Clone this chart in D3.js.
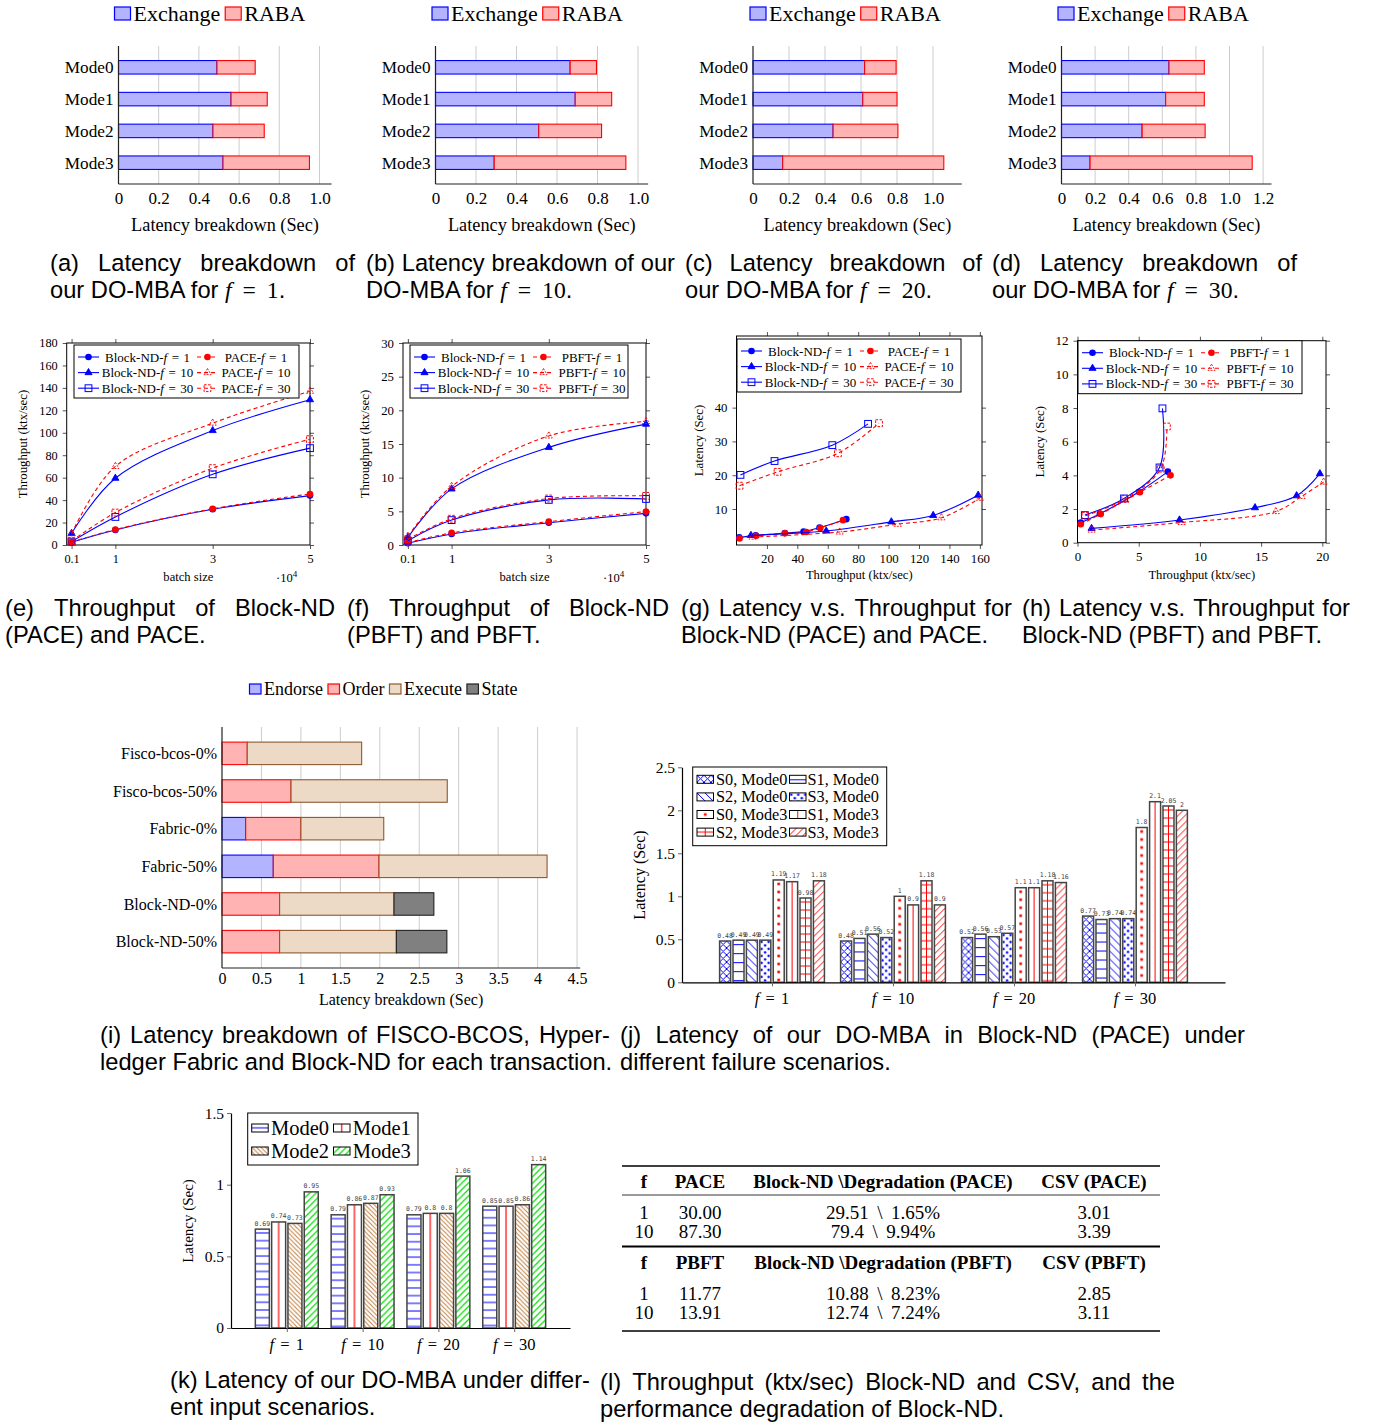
<!DOCTYPE html>
<html lang="en">
<head>
<meta charset="UTF-8">
<title>DO-MBA latency and throughput</title>
<script src="https://d3js.org/d3.v7.min.js"></script>
<style>
  body { margin: 0; background: #fff; }
  text { white-space: pre; }
</style>
</head>
<body>
<svg id="fig" width="1374" height="1425"></svg>
<script>
// ---------- data ----------
// (a)-(d) latency breakdown (sec) per mode
const modes = ["Mode0", "Mode1", "Mode2", "Mode3"];
const exchF1 = [0.49, 0.56, 0.47, 0.52];
const rabaF1 = [0.19, 0.18, 0.255, 0.43];
const exchF10 = [0.665, 0.69, 0.51, 0.29];
const rabaF10 = [0.13, 0.18, 0.31, 0.65];
const exchF20 = [0.62, 0.61, 0.445, 0.165];
const rabaF20 = [0.175, 0.19, 0.36, 0.895];
const exchF30 = [0.64, 0.62, 0.48, 0.17];
const rabaF30 = [0.21, 0.23, 0.375, 0.965];

// (e),(f) throughput (ktx/sec) vs batch size (x10^4)
const batchSizes = [0.1, 1, 3, 5];
const ndPaceTpF1 = [2.4, 13.4, 31.8, 44];
const paceTpF1 = [2.6, 13.8, 32.3, 45.5];
const ndPaceTpF10 = [10.4, 59.5, 102, 129.5];
const paceTpF10 = [10, 70, 108.6, 137];
const ndPaceTpF30 = [3, 25, 63, 86.3];
const paceTpF30 = [3.5, 28.9, 68.5, 94.3];
const ndPbftTpF1 = [0.25, 1.64, 3.3, 4.7];
const pbftTpF1 = [0.35, 1.8, 3.47, 4.96];
const ndPbftTpF10 = [1.14, 8.33, 14.5, 17.95];
const pbftTpF10 = [1.3, 8.7, 16.2, 18.35];
const ndPbftTpF30 = [0.64, 3.7, 6.7, 6.84];
const pbftTpF30 = [0.84, 3.9, 6.9, 7.3];

// (g),(h) [throughput, latency] points
const gNdF1 = [[1.8, 1.6], [12.6, 2.2], [31.8, 2.9], [44.1, 3.3], [54.6, 4.5], [72.2, 7.0]];
const gPaceF1 = [[2, 1.3], [13, 2.1], [31.8, 2.8], [45.9, 3.2], [55.1, 4.4], [70, 6.7]];
const gNdF10 = [[9.5, 2.2], [59, 3.5], [101.8, 6.2], [129.3, 8.1], [158.9, 14.1]];
const gPaceF10 = [[10.5, 1.7], [67.8, 3.2], [106, 5.5], [134.7, 7.4], [160, 13.2]];
const gNdF30 = [[2.6, 20.1], [25, 24.2], [63, 28.9], [86.5, 35.2]];
const gPaceF30 = [[2, 16.9], [27, 21], [66.7, 26.5], [93.7, 35.4]];
const hNdF1 = [[0.27, 1.19], [1.83, 1.72], [5.03, 3.03], [7.38, 4.22]];
const hPbftF1 = [[0.27, 1.1], [1.9, 1.7], [5.1, 3.0], [7.6, 4.0]];
const hNdF10 = [[1.15, 0.85], [8.33, 1.35], [14.5, 2.08], [17.9, 2.79], [19.8, 4.1]];
const hPbftF10 = [[1.15, 0.75], [8.5, 1.2], [16.2, 1.85], [18.3, 2.75], [20.1, 3.6]];
const hNdF30 = [[0.6, 1.64], [3.8, 2.63], [6.7, 4.47], [6.94, 7.98]];
const hPbftF30 = [[0.65, 1.6], [3.9, 2.6], [6.8, 4.4], [7.3, 6.9]];

// (i) latency breakdown per system
const systems = ["Fisco-bcos-0%", "Fisco-bcos-50%", "Fabric-0%", "Fabric-50%", "Block-ND-0%", "Block-ND-50%"];
const endorse = [0, 0, 0.3, 0.65, 0, 0];
const order = [0.32, 0.875, 0.7, 1.34, 0.73, 0.73];
const execute = [1.45, 1.98, 1.05, 2.13, 1.45, 1.48];
const state = [0, 0, 0, 0, 0.505, 0.64];

// (j) latency under failure scenarios
const failF = [1, 10, 20, 30];
const scenarios = ["S0, Mode0", "S1, Mode0", "S2, Mode0", "S3, Mode0", "S0, Mode3", "S1, Mode3", "S2, Mode3", "S3, Mode3"];
const failLatF1 = [0.48, 0.49, 0.49, 0.49, 1.19, 1.17, 0.98, 1.18];
const failLatF10 = [0.48, 0.51, 0.56, 0.52, 1, 0.9, 1.18, 0.9];
const failLatF20 = [0.52, 0.56, 0.53, 0.57, 1.1, 1.1, 1.18, 1.16];
const failLatF30 = [0.77, 0.73, 0.74, 0.74, 1.8, 2.1, 2.05, 2];

// (k) latency under input scenarios
const inputModes = ["Mode0", "Mode1", "Mode2", "Mode3"];
const inLatF1 = [0.69, 0.74, 0.73, 0.95];
const inLatF10 = [0.79, 0.86, 0.87, 0.93];
const inLatF20 = [0.79, 0.8, 0.8, 1.06];
const inLatF30 = [0.85, 0.85, 0.86, 1.14];

// (l) table
const tableHead1 = ["f", "PACE", "Block-ND \\Degradation (PACE)", "CSV (PACE)"];
const paceRows = [["1", "30.00", "29.51 \\ 1.65%", "3.01"], ["10", "87.30", "79.4 \\ 9.94%", "3.39"]];
const tableHead2 = ["f", "PBFT", "Block-ND \\Degradation (PBFT)", "CSV (PBFT)"];
const pbftRows = [["1", "11.77", "10.88 \\ 8.23%", "2.85"], ["10", "13.91", "12.74 \\ 7.24%", "3.11"]];

// ---------- setup ----------
const SERIF = "'Liberation Serif','Times New Roman',serif";
const SANS = "'Liberation Sans',Arial,sans-serif";
const MONO = "'DejaVu Sans Mono',monospace";
const BLUE = "#0000ff", RED = "#ff0000", BROWN = "#bf8040", GREEN = "#00dd00";

const svg = d3.select("#fig");
svg.append("rect").attr("width", 1374).attr("height", 1425).attr("fill", "#fff");
const defs = svg.append("defs");

// text with $...$ math parts (letters italic serif); ws = extra word spacing in math
function rich(t, str, family, ws) {
  str.split(/(\$[^$]*\$)/).filter(s => s.length).forEach(seg => {
    if (seg[0] === "$") {
      seg.slice(1, -1).split(/([A-Za-z]+)/).filter(s => s.length).forEach(part => {
        const isVar = /[A-Za-z]/.test(part);
        t.append("tspan").attr("font-family", SERIF)
          .attr("font-style", isVar ? "italic" : "normal")
          .style("word-spacing", isVar ? null : `${ws || 0}px`).text(part);
      });
    } else {
      t.append("tspan").attr("font-family", family).text(seg);
    }
  });
  return t;
}

function caption(x, w, y, lines) {
  const g = svg.append("g").attr("font-family", SANS).attr("font-size", 23.7).attr("fill", "#000");
  lines.forEach((ln, i) => {
    const by = y + i * 27;
    if (i < lines.length - 1) {
      const words = ln.split(" ");
      const ts = words.map(wd => g.append("text").attr("y", by).text(wd));
      const widths = ts.map(t => t.node().getComputedTextLength());
      const gap = (w - d3.sum(widths)) / (words.length - 1);
      let cx = x;
      ts.forEach((t, k) => { t.attr("x", cx); cx += widths[k] + gap; });
    } else {
      rich(g.append("text").attr("x", x).attr("y", by), ln, SANS, 5);
    }
  });
}

// ---------- horizontal stacked bars ----------
function hbarPanel(o) {
  const g = svg.append("g");
  const xEnd = o.x0 + o.px * o.xMax;
  const x = d3.scaleLinear().domain([0, o.xMax]).range([o.x0, xEnd]);
  const y = d3.scalePoint().domain(o.cats).range([o.top, o.bottom]).padding(o.pad);

  g.selectAll(".grid").data(o.ticks.filter(t => t > 0)).join("line")
    .attr("x1", d => x(d)).attr("x2", d => x(d)).attr("y1", o.top).attr("y2", o.bottom)
    .attr("stroke", "#cdcdcd").attr("stroke-width", 1);

  const segs = [];
  o.cats.forEach((c, i) => {
    let acc = 0;
    o.series.forEach(s => {
      const v = s.vals[i];
      if (v > 0) segs.push({ c, a: acc, b: acc + v, s });
      acc += v;
    });
  });
  g.selectAll(".seg").data(segs).join("rect")
    .attr("x", d => x(d.a)).attr("width", d => x(d.b) - x(d.a))
    .attr("y", d => y(d.c) - o.barH / 2).attr("height", o.barH)
    .attr("fill", d => d.s.fill).attr("stroke", d => d.s.stroke).attr("stroke-width", 1.1);

  g.append("line").attr("x1", o.x0).attr("x2", o.x0).attr("y1", o.top).attr("y2", o.bottom)
    .attr("stroke", "#222").attr("stroke-width", 1.2);
  g.append("line").attr("x1", o.x0).attr("x2", xEnd).attr("y1", o.bottom).attr("y2", o.bottom)
    .attr("stroke", "#222").attr("stroke-width", 1.2);

  const ax = g.append("g").attr("transform", `translate(0,${o.bottom})`)
    .call(d3.axisBottom(x).tickValues(o.ticks).tickFormat(o.fmt).tickSize(0).tickPadding(o.tickPad));
  ax.select(".domain").remove();
  ax.selectAll("text").attr("font-family", SERIF).attr("font-size", o.tickFont).attr("fill", "#000");

  const ay = g.append("g").attr("transform", `translate(${o.x0},0)`)
    .call(d3.axisLeft(y).tickSize(0).tickPadding(5));
  ay.select(".domain").remove();
  ay.selectAll("text").attr("font-family", SERIF).attr("font-size", o.catFont).attr("fill", "#000");

  g.append("text").attr("x", (o.x0 + xEnd) / 2).attr("y", o.titleY).attr("text-anchor", "middle")
    .attr("font-family", SERIF).attr("font-size", o.titleFont).text("Latency breakdown (Sec)");

  // legend row
  let lx = o.leg.x;
  o.series.forEach(s => {
    g.append("rect").attr("x", lx).attr("y", o.leg.y).attr("width", o.leg.bw).attr("height", o.leg.bh)
      .attr("fill", s.fill).attr("stroke", s.stroke).attr("stroke-width", 1.2);
    const t = g.append("text").attr("x", lx + o.leg.bw + 3).attr("y", o.leg.base)
      .attr("font-family", SERIF).attr("font-size", o.leg.fs).text(s.name);
    lx += o.leg.bw + 3 + t.node().getComputedTextLength() + 5;
  });
}

const exStyle = { name: "Exchange", fill: "#b3b3ff", stroke: BLUE };
const raStyle = { name: "RABA", fill: "#ffb3b3", stroke: RED };
const topPanels = [
  { ex: exchF1, ra: rabaF1, x0: 118.5, px: 201, xMax: 1.06, ticks: [0, 0.2, 0.4, 0.6, 0.8, 1.0], lx: 114.5 },
  { ex: exchF10, ra: rabaF10, x0: 435.5, px: 202.5, xMax: 1.05, ticks: [0, 0.2, 0.4, 0.6, 0.8, 1.0], lx: 432 },
  { ex: exchF20, ra: rabaF20, x0: 753, px: 180, xMax: 1.16, ticks: [0, 0.2, 0.4, 0.6, 0.8, 1.0], lx: 750 },
  { ex: exchF30, ra: rabaF30, x0: 1061.5, px: 168, xMax: 1.25, ticks: [0, 0.2, 0.4, 0.6, 0.8, 1.0, 1.2], lx: 1058 }
];
topPanels.forEach(p => hbarPanel({
  cats: modes, series: [Object.assign({ vals: p.ex }, exStyle), Object.assign({ vals: p.ra }, raStyle)],
  x0: p.x0, px: p.px, xMax: p.xMax, ticks: p.ticks, fmt: d => d === 0 ? "0" : d.toFixed(1),
  top: 46, bottom: 184, pad: 0.67, barH: 13.5, tickPad: 8, tickFont: 17, catFont: 17.2,
  titleY: 231, titleFont: 18.3,
  leg: { x: p.lx, y: 7, bw: 16, bh: 13, fs: 22, base: 21 }
}));

hbarPanel({
  cats: systems,
  series: [
    { name: "Endorse", vals: endorse, fill: "#b3b3ff", stroke: BLUE },
    { name: "Order", vals: order, fill: "#ffb3b3", stroke: RED },
    { name: "Execute", vals: execute, fill: "#ecd9c6", stroke: "#8c5a2e" },
    { name: "State", vals: state, fill: "#808080", stroke: "#222" }
  ],
  x0: 222, px: 78.9, xMax: 4.54, ticks: d3.range(0, 4.51, 0.5), fmt: d => String(d),
  top: 727, bottom: 968, pad: 0.7, barH: 22.5, tickPad: 4.5, tickFont: 16, catFont: 16,
  titleY: 1005, titleFont: 16,
  leg: { x: 249.5, y: 684, bw: 11.5, bh: 10, fs: 18, base: 695 }
});

// ---------- line plots ----------
function marker(g, s, cx, cy) {
  if (s.m === "circle") {
    g.append("circle").attr("cx", cx).attr("cy", cy).attr("r", 3.3).attr("fill", s.c);
  } else if (s.m === "tri") {
    g.append("path").attr("d", d3.symbol(d3.symbolTriangle, 22)())
      .attr("transform", `translate(${cx},${cy})`)
      .attr("fill", s.dash ? "none" : s.c).attr("stroke", s.c).attr("stroke-width", 0.9)
      .attr("stroke-dasharray", s.dash ? "2,1.2" : null);
  } else {
    g.append("rect").attr("x", cx - 3.4).attr("y", cy - 3.4).attr("width", 6.8).attr("height", 6.8)
      .attr("fill", "none").attr("stroke", s.c).attr("stroke-width", 1)
      .attr("stroke-dasharray", s.dash ? "2.5,1.5" : null);
  }
}

function linePanel(o) {
  const g = svg.append("g");
  const x = d3.scaleLinear().domain(o.xDom).range([o.l, o.r]);
  const y = d3.scaleLinear().domain(o.yDom).range([o.b, o.t]);
  const fix = (a, keep) => {
    a.select(".domain").remove();
    a.selectAll("line").attr("stroke", "#555");
    a.selectAll("text").attr("font-family", SERIF).attr("font-size", o.tf).attr("fill", "#000");
    if (!keep) a.selectAll("text").remove();
  };
  fix(g.append("g").attr("transform", `translate(0,${o.b})`)
    .call(d3.axisBottom(x).tickValues(o.xt).tickFormat(d => String(d)).tickSize(4).tickPadding(5)), true);
  fix(g.append("g").attr("transform", `translate(0,${o.t})`)
    .call(d3.axisTop(x).tickValues(o.xt).tickSize(4)), false);
  fix(g.append("g").attr("transform", `translate(${o.l},0)`)
    .call(d3.axisLeft(y).tickValues(o.yt).tickFormat(d => String(d)).tickSize(4).tickPadding(5)), true);
  fix(g.append("g").attr("transform", `translate(${o.r},0)`)
    .call(d3.axisRight(y).tickValues(o.yt).tickSize(4)), false);
  g.append("rect").attr("x", o.l).attr("y", o.t).attr("width", o.r - o.l).attr("height", o.b - o.t)
    .attr("fill", "none").attr("stroke", "#000").attr("stroke-width", 1);

  const line = d3.line().x(d => x(d[0])).y(d => y(d[1])).curve(d3.curveCatmullRom.alpha(0.5));
  o.series.forEach(s => {
    g.append("path").attr("d", line(s.pts)).attr("fill", "none").attr("stroke", s.c)
      .attr("stroke-width", 1.1).attr("stroke-dasharray", s.dash ? "4,3" : null);
    s.pts.forEach(p => marker(g, s, x(p[0]), y(p[1])));
  });

  g.append("text").attr("x", (o.l + o.r) / 2).attr("y", o.xTitleY).attr("text-anchor", "middle")
    .attr("font-family", SERIF).attr("font-size", 12.6).text(o.xTitle);
  g.append("text").attr("transform", `translate(${o.yTitleX},${(o.t + o.b) / 2}) rotate(-90)`)
    .attr("text-anchor", "middle").attr("font-family", SERIF).attr("font-size", 12.8).text(o.yTitle);
  if (o.exp) {
    const t = g.append("text").attr("x", o.exp[0]).attr("y", o.exp[1])
      .attr("font-family", SERIF).attr("font-size", 12.5);
    t.append("tspan").text("\u00b710");
    t.append("tspan").attr("dy", -5).attr("font-size", 9).text("4");
  }

  // legend
  const lg = g.append("g");
  lg.append("rect").attr("x", o.lx).attr("y", o.ly).attr("width", o.lw).attr("height", 53)
    .attr("fill", "#fff").attr("stroke", "#000").attr("stroke-width", 1);
  o.series.forEach((s, i) => {
    const row = Math.floor(i / 2), col = i % 2;
    const ry = o.ly + 12 + row * 15.6;
    const sx = o.lx + (col ? 123 : 4);
    lg.append("line").attr("x1", sx).attr("x2", sx + 21).attr("y1", ry).attr("y2", ry)
      .attr("stroke", s.c).attr("stroke-width", 1.1).attr("stroke-dasharray", s.dash ? "4,3" : null);
    marker(lg, s, sx + 10.5, ry);
    rich(lg.append("text").attr("x", o.lx + (col ? 182 : 73.5)).attr("y", ry + 4.5)
      .attr("text-anchor", "middle").attr("font-size", 13), s.name, SERIF, 1.2);
  });
}

const zipB = vals => batchSizes.map((b, i) => [b, vals[i]]);
function seriesSet(other, p) {
  return [
    { name: "Block-ND-$f = 1$", pts: p[0], c: BLUE, dash: false, m: "circle" },
    { name: other + "-$f = 1$", pts: p[1], c: RED, dash: true, m: "circle" },
    { name: "Block-ND-$f = 10$", pts: p[2], c: BLUE, dash: false, m: "tri" },
    { name: other + "-$f = 10$", pts: p[3], c: RED, dash: true, m: "tri" },
    { name: "Block-ND-$f = 30$", pts: p[4], c: BLUE, dash: false, m: "square" },
    { name: other + "-$f = 30$", pts: p[5], c: RED, dash: true, m: "square" }
  ];
}

linePanel({
  l: 66.7, r: 310, t: 343, b: 545, xDom: [0, 5], yDom: [0, 180],
  xt: batchSizes, yt: d3.range(0, 181, 20), tf: 12.3,
  series: seriesSet("PACE", [ndPaceTpF1, paceTpF1, ndPaceTpF10, paceTpF10, ndPaceTpF30, paceTpF30].map(zipB)),
  xTitle: "batch size", xTitleY: 581, yTitle: "Throughput (ktx/sec)", yTitleX: 27, exp: [276, 582],
  lx: 74, ly: 345, lw: 225
});
linePanel({
  l: 403, r: 646, t: 343, b: 545, xDom: [0, 5], yDom: [0, 30],
  xt: batchSizes, yt: d3.range(0, 31, 5), tf: 12.8,
  series: seriesSet("PBFT", [ndPbftTpF1, pbftTpF1, ndPbftTpF10, pbftTpF10, ndPbftTpF30, pbftTpF30].map(zipB)),
  xTitle: "batch size", xTitleY: 581, yTitle: "Throughput (ktx/sec)", yTitleX: 369, exp: [603, 582],
  lx: 410, ly: 345, lw: 218
});
linePanel({
  l: 736.5, r: 982, t: 336, b: 545, xDom: [0, 161.4], yDom: [-0.65, 61.2],
  xt: d3.range(20, 161, 20), yt: [10, 20, 30, 40], tf: 12.8,
  series: seriesSet("PACE", [gNdF1, gPaceF1, gNdF10, gPaceF10, gNdF30, gPaceF30]),
  xTitle: "Throughput (ktx/sec)", xTitleY: 579, yTitle: "Latency (Sec)", yTitleX: 703,
  lx: 737, ly: 339, lw: 224
});
linePanel({
  l: 1077.5, r: 1326, t: 340.7, b: 542.7, xDom: [0, 20.3], yDom: [0, 12],
  xt: [0, 5, 10, 15, 20], yt: d3.range(0, 13, 2), tf: 13,
  series: seriesSet("PBFT", [hNdF1, hPbftF1, hNdF10, hPbftF10, hNdF30, hPbftF30]),
  xTitle: "Throughput (ktx/sec)", xTitleY: 579, yTitle: "Latency (Sec)", yTitleX: 1044,
  lx: 1078, ly: 340.7, lw: 224
});

// ---------- grouped patterned bars ----------
function makePattern(id, sp, ox, oy, w) {
  const s = sp.s;
  const full = ["hlines", "vline", "grid", "dotcol"].includes(sp.kind);
  const pw = full ? w : s, ph = s;
  const p = defs.append("pattern").attr("id", id).attr("patternUnits", "userSpaceOnUse")
    .attr("x", ox).attr("y", oy).attr("width", pw).attr("height", ph);
  const st = el => el.attr("stroke", sp.color).attr("stroke-width", sp.lw || 1).attr("fill", "none");
  const nw = `M-1,-1L${s + 1},${s + 1}M-1,${s - 1}L1,${s + 1}M${s - 1},-1L${s + 1},1`;
  const ne = `M-1,${s + 1}L${s + 1},-1M-1,1L1,-1M${s - 1},${s + 1}L${s + 1},${s - 1}`;
  if (sp.kind === "hlines") st(p.append("path").attr("d", `M0,${ph / 2}H${pw}`));
  if (sp.kind === "vline") st(p.append("path").attr("d", `M${pw / 2},0V${ph}`));
  if (sp.kind === "grid") st(p.append("path").attr("d", `M${pw / 2},0V${ph}M0,${ph / 2}H${pw}`));
  if (sp.kind === "nw") st(p.append("path").attr("d", nw));
  if (sp.kind === "ne") st(p.append("path").attr("d", ne));
  if (sp.kind === "cross") st(p.append("path").attr("d", nw + ne));
  if (sp.kind === "dots") {
    p.append("circle").attr("cx", s / 4).attr("cy", s / 4).attr("r", sp.r).attr("fill", sp.color);
    p.append("circle").attr("cx", 3 * s / 4).attr("cy", 3 * s / 4).attr("r", sp.r).attr("fill", sp.color);
  }
  if (sp.kind === "dotcol") p.append("rect").attr("x", pw / 2 - sp.r).attr("y", ph / 2 - sp.r)
    .attr("width", 2 * sp.r).attr("height", 2 * sp.r).attr("fill", sp.color);
}

function groupBars(o) {
  const g = svg.append("g");
  const x = d3.scalePoint().domain(o.groups).range([o.x0, o.x1]).padding(o.pad);
  const y = d3.scaleLinear().domain([0, o.yMax]).range([o.y0, o.y0 - o.px * o.yMax]);
  const n = o.specs.length;
  const bars = o.groups.flatMap((gv, gi) => o.vals[gi].map((v, si) =>
    ({ gi, si, v, bx: x(gv) + (si - (n - 1) / 2) * o.step - o.bw / 2 })));
  bars.forEach(d => {
    const id = `${o.id}-${d.gi}-${d.si}`;
    makePattern(id, o.specs[d.si], d.bx, y(d.v), o.bw);
    g.append("rect").attr("x", d.bx).attr("y", y(d.v)).attr("width", o.bw).attr("height", y(0) - y(d.v))
      .attr("fill", "#fff");
    g.append("rect").attr("x", d.bx).attr("y", y(d.v)).attr("width", o.bw).attr("height", y(0) - y(d.v))
      .attr("fill", `url(#${id})`).attr("stroke", "#444").attr("stroke-width", 1.5);
    g.append("text").attr("x", d.bx + o.bw / 2).attr("y", y(d.v) - 3.5).attr("text-anchor", "middle")
      .attr("font-family", MONO).attr("font-size", 6.5).attr("fill", "#444").text(String(d.v));
  });

  const ay = g.append("g").attr("transform", `translate(${o.x0},0)`)
    .call(d3.axisLeft(y).tickValues(o.yt).tickFormat(d => String(d)).tickSize(4).tickSizeOuter(0).tickPadding(3));
  ay.select(".domain").attr("stroke", "#000").attr("stroke-width", 1.2);
  ay.selectAll("line").attr("stroke", "#666");
  ay.selectAll("text").attr("font-family", SERIF).attr("font-size", 15.5).attr("fill", "#000");
  const ax = g.append("g").attr("transform", `translate(0,${o.y0})`)
    .call(d3.axisBottom(x).tickSize(4).tickSizeOuter(0).tickFormat(""));
  ax.select(".domain").attr("stroke", "#000").attr("stroke-width", 1.2);
  ax.selectAll("line").attr("stroke", "#666");
  o.groups.forEach(gv => rich(g.append("text").attr("x", x(gv)).attr("y", o.xLabY).attr("text-anchor", "middle")
    .attr("font-size", 16.5), `$f = ${gv}$`, SERIF, 2));
  g.append("text").attr("transform", `translate(${o.yTitleX},${o.yTitleC}) rotate(-90)`)
    .attr("text-anchor", "middle").attr("font-family", SERIF).attr("font-size", o.yTitleFs).text("Latency (Sec)");

  const L = o.leg;
  g.append("rect").attr("x", L.x).attr("y", L.y).attr("width", L.w).attr("height", L.h)
    .attr("fill", "#fff").attr("stroke", "#000").attr("stroke-width", 1);
  o.names.forEach((nm, i) => {
    const row = Math.floor(i / 2), col = i % 2;
    const cy = L.r0 + row * L.dy;
    const sx = L.sx[col];
    const id = `${o.id}-lg-${i}`;
    makePattern(id, o.specs[i], sx, cy - 4, L.sw);
    g.append("rect").attr("x", sx).attr("y", cy - 4).attr("width", L.sw).attr("height", 8).attr("fill", "#fff");
    g.append("rect").attr("x", sx).attr("y", cy - 4).attr("width", L.sw).attr("height", 8)
      .attr("fill", `url(#${id})`).attr("stroke", "#000").attr("stroke-width", 1);
    g.append("text").attr("x", L.tx[col]).attr("y", cy + L.fs * 0.34).attr("font-family", SERIF)
      .attr("font-size", L.fs).text(nm);
  });
}

groupBars({
  id: "pj", groups: failF, vals: [failLatF1, failLatF10, failLatF20, failLatF30], names: scenarios,
  specs: [
    { kind: "cross", color: BLUE, s: 7 },
    { kind: "hlines", color: BLUE, s: 9 },
    { kind: "nw", color: BLUE, s: 8 },
    { kind: "dots", color: BLUE, s: 7, r: 1.2 },
    { kind: "dotcol", color: RED, s: 8, r: 1.3 },
    { kind: "vline", color: RED, s: 10 },
    { kind: "grid", color: RED, s: 8 },
    { kind: "ne", color: RED, s: 7 }
  ],
  x0: 682, x1: 1225, pad: 0.744, y0: 982.3, px: 86, yMax: 2.5, yt: [0, 0.5, 1, 1.5, 2, 2.5],
  bw: 11, step: 13.4, xLabY: 1004, yTitleX: 645, yTitleC: 875, yTitleFs: 16,
  leg: { x: 692.7, y: 767, w: 194, h: 78.7, r0: 779.3, dy: 17.6, sx: [697, 789.5], sw: 16.5, tx: [716, 807.5], fs: 16.3 }
});

groupBars({
  id: "pk", groups: failF, vals: [inLatF1, inLatF10, inLatF20, inLatF30], names: inputModes,
  specs: [
    { kind: "hlines", color: BLUE, s: 7.7 },
    { kind: "vline", color: RED, s: 10, lw: 1.2 },
    { kind: "nw", color: BROWN, s: 4.5 },
    { kind: "ne", color: GREEN, s: 6.5, lw: 1.2 }
  ],
  x0: 231, x1: 570, pad: 0.736, y0: 1328, px: 143.3, yMax: 1.5, yt: [0, 0.5, 1, 1.5],
  bw: 14, step: 16.3, xLabY: 1350, yTitleX: 193, yTitleC: 1221, yTitleFs: 15,
  leg: { x: 247.7, y: 1113, w: 170.3, h: 52, r0: 1128, dy: 23, sx: [251.7, 333.5], sw: 16.5, tx: [271, 352.7], fs: 20.5 }
});

// ---------- table (l) ----------
(function () {
  const cols = [644, 700, 883, 1094];
  const g = svg.append("g").attr("font-family", SERIF).attr("font-size", 19).attr("fill", "#000");
  const rule = (yy, w) => g.append("line").attr("x1", 622).attr("x2", 1160).attr("y1", yy).attr("y2", yy)
    .attr("stroke", "#000").attr("stroke-width", w);
  const row = (cells, yy, bold) => cells.forEach((c, i) => g.append("text").attr("x", cols[i]).attr("y", yy)
    .attr("text-anchor", "middle").attr("font-weight", bold ? "bold" : "normal")
    .text(c.replace(" \\ ", " \u2009\\\u2009 ")));
  rule(1166, 1.5);
  row(tableHead1, 1187.5, true);
  rule(1195, 0.8);
  row(paceRows[0], 1218.5);
  row(paceRows[1], 1237.5);
  rule(1246.5, 1.8);
  row(tableHead2, 1268.5, true);
  row(pbftRows[0], 1299.5);
  row(pbftRows[1], 1319);
  rule(1331, 1.5);
})();

// ---------- captions ----------
caption(50, 305, 271, ["(a) Latency breakdown of", "our DO-MBA for $f = 1$."]);
caption(366, 309, 271, ["(b) Latency breakdown of our", "DO-MBA for $f = 10$."]);
caption(685, 297, 271, ["(c) Latency breakdown of", "our DO-MBA for $f = 20$."]);
caption(992, 305, 271, ["(d) Latency breakdown of", "our DO-MBA for $f = 30$."]);
caption(5, 330, 616, ["(e) Throughput of Block-ND", "(PACE) and PACE."]);
caption(347, 322, 616, ["(f) Throughput of Block-ND", "(PBFT) and PBFT."]);
caption(681, 331, 616, ["(g) Latency v.s. Throughput for", "Block-ND (PACE) and PACE."]);
caption(1022, 328, 616, ["(h) Latency v.s. Throughput for", "Block-ND (PBFT) and PBFT."]);
caption(100, 510, 1043, ["(i) Latency breakdown of FISCO-BCOS, Hyper-", "ledger Fabric and Block-ND for each transaction."]);
caption(620, 625, 1043, ["(j) Latency of our DO-MBA in Block-ND (PACE) under", "different failure scenarios."]);
caption(170, 420, 1388, ["(k) Latency of our DO-MBA under differ-", "ent input scenarios."]);
caption(600, 575, 1390, ["(l) Throughput (ktx/sec) Block-ND and CSV, and the", "performance degradation of Block-ND."]);
</script>
</body>
</html>
